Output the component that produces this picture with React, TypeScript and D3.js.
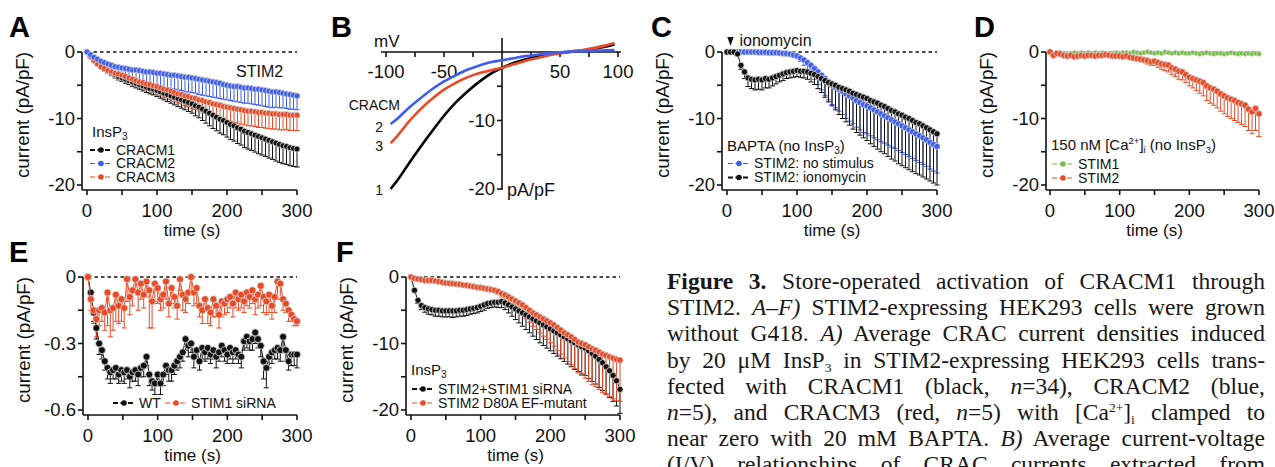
import React, { useLayoutEffect, useRef } from 'react';
import * as d3 from 'd3';

const SANS = '"Liberation Sans", Arial, Helvetica, sans-serif';
const SERIF = '"Liberation Serif", "Times New Roman", serif';

const INK = '#111';
const BLUE = '#3d5ef2';
const RED = '#ec4a24';
const GREEN = '#74c043';

// sampling times (s)
const T5 = d3.range(0, 301, 5);
const T4 = d3.range(0, 301, 4);

const TIME_TICKS = [0, 50, 100, 150, 200, 250, 300];
const TIME_LABELS = [0, 100, 200, 300];
const CURRENT_TICKS = [0, -5, -10, -15, -20];
const CURRENT_LABELS = [0, -10, -20];
const SMALL_TICKS = [0, -0.15, -0.3, -0.45, -0.6];
const SMALL_LABELS = [0, -0.3, -0.6];

// A: InsP3, STIM2 cells
const A_CRACM1 = [
  0, -0.6, -1.2, -1.7, -2.1, -2.5, -2.8, -3.1, -3.4, -3.7,
  -3.9, -4.1, -4.3, -4.5, -4.7, -4.9, -5.1, -5.3, -5.5, -5.6,
  -5.8, -6.0, -6.2, -6.4, -6.6, -6.8, -7.0, -7.2, -7.4, -7.6,
  -7.8, -8.1, -8.3, -8.6, -8.9, -9.2, -9.5, -9.8, -10.1, -10.3,
  -10.6, -10.9, -11.1, -11.4, -11.6, -11.9, -12.1, -12.3, -12.5, -12.7,
  -12.9, -13.1, -13.3, -13.5, -13.7, -13.9, -14.1, -14.2, -14.4, -14.5,
  -14.6,
];
const A_CRACM1_SEM = [
  0, 0.1, 0.2, 0.25, 0.3, 0.35, 0.4, 0.45, 0.5, 0.5,
  0.55, 0.6, 0.6, 0.65, 0.7, 0.7, 0.75, 0.8, 0.8, 0.85,
  0.9, 0.95, 1.0, 1.05, 1.1, 1.15, 1.2, 1.25, 1.3, 1.35,
  1.4, 1.5, 1.6, 1.7, 1.8, 1.9, 2.0, 2.05, 2.1, 2.15,
  2.2, 2.25, 2.3, 2.35, 2.4, 2.45, 2.5, 2.5, 2.55, 2.6,
  2.6, 2.6, 2.65, 2.65, 2.7, 2.7, 2.7, 2.7, 2.7, 2.7,
  2.7,
];
const A_CRACM2 = [
  0, -0.4, -0.8, -1.1, -1.4, -1.6, -1.8, -2.0, -2.2, -2.3,
  -2.4, -2.5, -2.6, -2.7, -2.7, -2.8, -2.9, -3.0, -3.0, -3.1,
  -3.2, -3.2, -3.3, -3.4, -3.5, -3.5, -3.6, -3.7, -3.8, -3.8,
  -3.9, -4.0, -4.1, -4.2, -4.3, -4.4, -4.5, -4.6, -4.7, -4.9,
  -5.0, -5.1, -5.2, -5.2, -5.3, -5.4, -5.4, -5.5, -5.6, -5.6,
  -5.7, -5.8, -5.9, -6.0, -6.0, -6.1, -6.2, -6.3, -6.4, -6.5,
  -6.6,
];
const A_CRACM2_SEM = [
  0, 0.2, 0.4, 0.6, 0.8, 0.9, 1.0, 1.1, 1.2, 1.3,
  1.4, 1.5, 1.5, 1.6, 1.6, 1.7, 1.7, 1.8, 1.8, 1.8,
  1.9, 1.9, 2.0, 2.0, 2.0, 2.1, 2.1, 2.1, 2.2, 2.2,
  2.2, 2.2, 2.3, 2.3, 2.3, 2.3, 2.3, 2.3, 2.3, 2.2,
  2.2, 2.2, 2.2, 2.3, 2.3, 2.3, 2.3, 2.3, 2.3, 2.4,
  2.4, 2.4, 2.4, 2.4, 2.3, 2.3, 2.2, 2.2, 2.2, 2.1,
  2.1,
];
const A_CRACM3 = [
  0, -0.7, -1.3, -1.8, -2.2, -2.5, -2.8, -3.0, -3.2, -3.3,
  -3.5, -3.7, -3.9, -4.1, -4.3, -4.5, -4.6, -4.8, -4.9, -5.1,
  -5.2, -5.4, -5.6, -5.7, -5.9, -6.1, -6.3, -6.4, -6.6, -6.7,
  -6.9, -7.0, -7.2, -7.3, -7.5, -7.6, -7.8, -7.9, -8.0, -8.2,
  -8.3, -8.4, -8.5, -8.6, -8.7, -8.8, -8.9, -8.9, -9.0, -9.1,
  -9.1, -9.2, -9.2, -9.3, -9.3, -9.4, -9.4, -9.4, -9.5, -9.5,
  -9.5,
];
const A_CRACM3_SEM = [
  0, 0.1, 0.15, 0.2, 0.25, 0.3, 0.35, 0.4, 0.45, 0.5,
  0.55, 0.6, 0.65, 0.7, 0.75, 0.8, 0.85, 0.9, 0.95, 1.0,
  1.05, 1.1, 1.15, 1.2, 1.25, 1.3, 1.35, 1.4, 1.45, 1.5,
  1.55, 1.6, 1.65, 1.7, 1.75, 1.8, 1.85, 1.9, 1.95, 2.0,
  2.0, 2.05, 2.1, 2.1, 2.15, 2.15, 2.2, 2.2, 2.2, 2.25,
  2.25, 2.25, 2.3, 2.3, 2.3, 2.3, 2.3, 2.3, 2.3, 2.3,
  2.3,
];

// B: I/V curves
const IV_MV = [-96, -90, -80, -70, -60, -50, -40, -30, -20, -10, 0, 10, 20, 30, 40, 50, 60, 70, 80, 90, 97];
const IV_CRACM1 = [-20.0, -18.7, -16.2, -13.8, -11.5, -9.3, -7.4, -5.8, -4.4, -3.2, -2.3, -1.6, -1.1, -0.7, -0.4, -0.15, 0.05, 0.25, 0.5, 0.8, 1.1];
const IV_CRACM2 = [-10.5, -9.7, -8.1, -6.7, -5.4, -4.3, -3.4, -2.6, -2.0, -1.5, -1.2, -0.9, -0.6, -0.4, -0.2, -0.05, 0.05, 0.1, 0.2, 0.25, 0.3];
const IV_CRACM3 = [-13.3, -12.2, -10.1, -8.3, -6.8, -5.5, -4.5, -3.7, -3.1, -2.7, -2.3, -1.8, -1.3, -0.9, -0.5, -0.2, 0.1, 0.3, 0.6, 1.0, 1.3];
const MV_TICKS = [-100, -75, -50, -25, 25, 50, 75, 100];
const MV_LABELS = [-100, -50, 50, 100];
const PA_TICKS = [-5, -10, -15, -20];
const PA_LABELS = [-10, -20];

// C: BAPTA, no InsP3
const C_NO_STIM = [
  0, 0, 0, 0, 0, 0, 0, 0, 0, -0.05,
  -0.05, -0.05, -0.1, -0.1, -0.1, -0.15, -0.2, -0.25, -0.3, -0.45,
  -0.6, -0.9, -1.2, -1.6, -2.0, -2.5, -3.0, -3.5, -4.0, -4.5,
  -5.0, -5.3, -5.6, -5.9, -6.3, -6.6, -6.9, -7.3, -7.6, -7.9,
  -8.1, -8.4, -8.7, -9.0, -9.3, -9.6, -9.9, -10.2, -10.5, -10.8,
  -11.1, -11.4, -11.7, -12.0, -12.3, -12.6, -12.9, -13.2, -13.6, -13.9,
  -14.2,
];
const C_NO_STIM_SEM = [
  0, 0, 0, 0, 0, 0, 0, 0, 0, 0,
  0, 0, 0, 0, 0, 0, 0, 0, 0.1, 0.2,
  0.3, 0.5, 0.8, 1.0, 1.3, 1.6, 1.9, 2.2, 2.5, 2.7,
  2.9, 3.1, 3.3, 3.5, 3.7, 3.8, 3.9, 4.0, 4.1, 4.2,
  4.2, 4.2, 4.2, 4.2, 4.2, 4.1, 4.1, 4.1, 4.0, 4.0,
  4.0, 4.0, 4.0, 4.0, 4.0, 4.0, 4.0, 4.0, 4.0, 4.0,
  4.0,
];
const C_IONO = [
  0, 0, 0, -0.3, -2.0, -3.0, -3.9, -4.1, -4.2, -4.1,
  -4.2, -4.0, -4.1, -3.9, -3.7, -3.5, -3.3, -3.1, -3.0, -2.9,
  -2.8, -2.9, -2.9, -3.0, -3.2, -3.4, -3.7, -4.0, -4.3, -4.6,
  -4.8, -5.0, -5.3, -5.5, -5.7, -5.9, -6.2, -6.4, -6.6, -6.8,
  -7.0, -7.3, -7.5, -7.7, -8.0, -8.2, -8.5, -8.8, -9.0, -9.3,
  -9.5, -9.8, -10.0, -10.3, -10.6, -10.8, -11.1, -11.4, -11.7, -12.0,
  -12.3,
];
const C_IONO_SEM = [
  0, 0, 0, 0.2, 0.6, 1.0, 1.3, 1.4, 1.5, 1.5,
  1.5, 1.4, 1.3, 1.2, 1.1, 1.0, 1.0, 0.9, 0.9, 0.9,
  0.9, 0.9, 1.0, 1.1, 1.3, 1.5, 1.8, 2.1, 2.5, 2.9,
  3.3, 3.7, 4.1, 4.5, 4.8, 5.1, 5.4, 5.7, 5.9, 6.1,
  6.3, 6.5, 6.7, 6.9, 7.0, 7.1, 7.2, 7.3, 7.4, 7.5,
  7.6, 7.6, 7.7, 7.7, 7.7, 7.7, 7.7, 7.7, 7.7, 7.7,
  7.7,
];
const IONOMYCIN_T = 5;

// D: 150 nM Ca, no InsP3
const D_STIM1 = [
  -0.1, -0.3, -0.2, -0.1, -0.2, -0.3, -0.2, -0.1, -0.2, -0.1,
  -0.2, -0.1, -0.3, -0.1, -0.2, -0.1, -0.2, -0.3, -0.2, -0.1,
  -0.2, -0.1, -0.1, -0.2, 0, -0.1, -0.2, -0.1, 0, -0.1,
  -0.2, -0.1, -0.2, 0, -0.1, -0.2, -0.1, -0.2, -0.1, -0.2,
  -0.2, -0.1, -0.2, -0.3, -0.2, -0.1, -0.2, -0.3, -0.2, -0.2,
  -0.3, -0.2, -0.1, -0.2, -0.3, -0.2, -0.3, -0.2, -0.3, -0.2,
  -0.3,
];
const D_STIM1_SEM = [
  0, 0.1, 0.1, 0.1, 0.1, 0.1, 0.1, 0.1, 0.1, 0.1,
  0.1, 0.1, 0.1, 0.1, 0.1, 0.1, 0.1, 0.1, 0.1, 0.1,
  0.1, 0.1, 0.1, 0.1, 0.1, 0.1, 0.1, 0.1, 0.1, 0.1,
  0.1, 0.1, 0.1, 0.1, 0.1, 0.1, 0.1, 0.1, 0.1, 0.1,
  0.1, 0.1, 0.1, 0.1, 0.1, 0.1, 0.1, 0.1, 0.1, 0.1,
  0.1, 0.1, 0.1, 0.1, 0.1, 0.1, 0.1, 0.1, 0.1, 0.1,
  0.1,
];
const D_STIM2 = [
  0, -0.5, -0.2, -0.3, -0.5, -0.6, -0.5, -0.7, -0.6, -0.5,
  -0.6, -0.5, -0.5, -0.6, -0.5, -0.5, -0.4, -0.5, -0.6, -0.6,
  -0.6, -0.7, -0.6, -0.8, -0.9, -1.0, -1.1, -1.2, -1.3, -1.5,
  -1.4, -1.6, -1.8, -1.9, -2.0, -2.4, -2.6, -2.9, -3.0, -3.4,
  -3.8, -4.0, -4.2, -4.4, -4.6, -5.1, -5.4, -5.6, -5.9, -6.3,
  -6.6, -6.9, -7.1, -7.3, -7.6, -7.8, -8.0, -8.6, -9.0, -8.5,
  -9.3,
];
const D_STIM2_SEM = [
  0, 0.1, 0.1, 0.1, 0.1, 0.1, 0.1, 0.1, 0.1, 0.1,
  0.1, 0.1, 0.1, 0.1, 0.1, 0.1, 0.1, 0.1, 0.1, 0.1,
  0.1, 0.1, 0.1, 0.2, 0.2, 0.3, 0.3, 0.4, 0.5, 0.5,
  0.6, 0.7, 0.8, 0.9, 1.0, 1.0, 1.1, 1.2, 1.2, 1.2,
  1.3, 1.4, 1.6, 1.8, 2.0, 2.2, 2.3, 2.4, 2.5, 2.6,
  2.7, 2.8, 2.9, 3.0, 3.0, 3.1, 3.2, 3.2, 3.3, 3.3,
  3.4,
];

// E: STIM1 knock-down (4 s sampling)
const E_WT = [
  0, -0.07, -0.16, -0.23, -0.30, -0.33, -0.38, -0.41, -0.43, -0.42,
  -0.41, -0.44, -0.42, -0.43, -0.42, -0.45, -0.43, -0.42, -0.44, -0.41,
  -0.40, -0.36, -0.44, -0.47, -0.48, -0.44, -0.48, -0.44, -0.40, -0.42,
  -0.42, -0.40, -0.38, -0.36, -0.34, -0.28, -0.31, -0.30, -0.36, -0.33,
  -0.38, -0.32, -0.34, -0.32, -0.35, -0.33, -0.36, -0.34, -0.31, -0.33,
  -0.35, -0.32, -0.34, -0.33, -0.35, -0.36, -0.29, -0.27, -0.29, -0.28,
  -0.25, -0.28, -0.31, -0.38, -0.41, -0.36, -0.34, -0.33, -0.32, -0.33,
  -0.27, -0.33, -0.38, -0.35, -0.35, -0.35,
];
const E_WT_SEM = [
  0, 0.02, 0.04, 0.05, 0.05, 0.04, 0.04, 0.05, 0.05, 0.04,
  0.05, 0.04, 0.05, 0.05, 0.04, 0.05, 0.04, 0.05, 0.05, 0.04,
  0.05, 0.04, 0.05, 0.04, 0.05, 0.04, 0.05, 0.05, 0.04, 0.05,
  0.05, 0.04, 0.04, 0.05, 0.04, 0.05, 0.05, 0.04, 0.05, 0.04,
  0.04, 0.05, 0.04, 0.05, 0.04, 0.04, 0.05, 0.04, 0.05, 0.05,
  0.04, 0.05, 0.05, 0.04, 0.04, 0.05, 0.04, 0.05, 0.04, 0.05,
  0.05, 0.04, 0.05, 0.08, 0.09, 0.05, 0.05, 0.04, 0.05, 0.05,
  0.05, 0.05, 0.04, 0.05, 0.05, 0.06,
];
const E_SIRNA = [
  0, -0.10, -0.15, -0.19, -0.15, -0.14, -0.16, -0.07, -0.15, -0.14,
  -0.08, -0.13, -0.10, -0.14, -0.01, -0.09, -0.06, -0.01, -0.07, -0.03,
  -0.08, -0.02, -0.06, -0.11, -0.03, -0.05, -0.10, -0.08, -0.02, -0.12,
  -0.05, -0.09, -0.13, -0.01, -0.08, -0.10, -0.07, 0, -0.07, -0.05,
  -0.13, -0.15, -0.10, -0.14, -0.16, -0.10, -0.13, -0.17, -0.11, -0.12,
  -0.10, -0.09, -0.12, -0.07, -0.10, -0.08, -0.11, -0.07, -0.09, -0.06,
  -0.10, -0.08, -0.04, -0.09, -0.11, -0.08, -0.13, -0.09, -0.02, -0.03,
  -0.10, -0.12, -0.15, -0.17, -0.19, -0.20,
];
const E_SIRNA_SEM = [
  0, 0.05, 0.06, 0.08, 0.07, 0.06, 0.08, 0.15, 0.12, 0.1,
  0.12, 0.08, 0.1, 0.09, 0.1, 0.08, 0.07, 0.06, 0.08, 0.07,
  0.06, 0.07, 0.17, 0.12, 0.08, 0.07, 0.05, 0.06, 0.08, 0.06,
  0.07, 0.05, 0.06, 0.05, 0.07, 0.06, 0.05, 0.06, 0.06, 0.07,
  0.05, 0.06, 0.05, 0.07, 0.06, 0.08, 0.05, 0.06, 0.07, 0.05,
  0.06, 0.05, 0.06, 0.07, 0.05, 0.06, 0.05, 0.06, 0.05, 0.06,
  0.07, 0.06, 0.09, 0.07, 0.06, 0.08, 0.06, 0.07, 0.08, 0.07,
  0.05, 0.04, 0.05, 0.03, 0.03, 0.02,
];

// F: InsP3, STIM2 + STIM1 siRNA / D80A mutant
const F_SIRNA = [
  0, -2.0, -3.5, -4.3, -4.6, -4.8, -4.9, -5.0, -5.0, -5.1,
  -5.1, -5.1, -5.1, -5.1, -5.0, -5.0, -4.9, -4.8, -4.7, -4.6,
  -4.4, -4.2, -4.0, -3.9, -3.8, -3.8, -3.7, -3.9, -4.2, -4.5,
  -4.8, -5.1, -5.4, -5.7, -6.0, -6.3, -6.6, -6.9, -7.2, -7.5,
  -7.8, -8.1, -8.4, -8.7, -9.0, -9.3, -9.6, -9.9, -10.2, -10.5,
  -10.7, -11.1, -11.5, -11.9, -12.4, -12.9, -13.5, -14.1, -14.8, -15.6,
  -16.9,
];
const F_SIRNA_SEM = [
  0, 0.3, 0.5, 0.6, 0.7, 0.8, 0.8, 0.9, 0.9, 0.9,
  0.9, 0.9, 1.0, 0.9, 0.9, 0.9, 0.9, 0.8, 0.8, 0.8,
  0.8, 0.8, 0.7, 0.7, 0.7, 0.8, 0.9, 1.0, 1.2, 1.4,
  1.6, 1.8, 2.0, 2.2, 2.4, 2.6, 2.8, 3.0, 3.1, 3.2,
  3.3, 3.4, 3.5, 3.6, 3.7, 3.8, 3.9, 4.0, 4.0, 4.1,
  4.1, 4.2, 4.2, 4.2, 4.2, 4.2, 4.1, 4.0, 3.9, 3.8,
  3.6,
];
const F_D80A = [
  0, -0.2, -0.3, -0.4, -0.5, -0.5, -0.5, -0.6, -0.7, -0.8,
  -0.9, -0.95, -1.0, -1.05, -1.1, -1.2, -1.25, -1.35, -1.45, -1.55,
  -1.6, -1.7, -1.8, -1.9, -2.0, -2.2, -2.5, -2.7, -3.0, -3.3,
  -3.6, -3.9, -4.2, -4.6, -5.0, -5.4, -5.7, -6.0, -6.3, -6.6,
  -6.9, -7.2, -7.6, -8.0, -8.4, -8.7, -9.0, -9.4, -9.8, -10.0,
  -10.2, -10.5, -10.8, -11.0, -11.3, -11.6, -11.8, -12.0, -12.2, -12.4,
  -12.5,
];
const F_D80A_SEM = [
  0, 0.1, 0.1, 0.1, 0.1, 0.1, 0.1, 0.1, 0.1, 0.1,
  0.1, 0.1, 0.1, 0.1, 0.1, 0.1, 0.1, 0.1, 0.1, 0.1,
  0.2, 0.2, 0.2, 0.3, 0.3, 0.4, 0.5, 0.6, 0.7, 0.8,
  1.0, 1.2, 1.4, 1.6, 1.8, 2.0, 2.2, 2.4, 2.6, 2.8,
  3.0, 3.2, 3.4, 3.6, 3.8, 4.0, 4.2, 4.4, 4.6, 4.8,
  5.0, 5.2, 5.4, 5.5, 5.6, 5.8, 5.9, 6.0, 6.1, 6.2,
  6.2,
];

type Seg = { t: string; b?: boolean; i?: boolean; sub?: boolean; sup?: boolean };
const CAPTION: Seg[][] = [
  [{ t: 'Figure 3.', b: true }, { t: ' Store-operated activation of CRACM1 through' }],
  [{ t: 'STIM2. ' }, { t: 'A–F)', i: true }, { t: ' STIM2-expressing HEK293 cells were grown' }],
  [{ t: 'without G418. ' }, { t: 'A)', i: true }, { t: ' Average CRAC current densities induced' }],
  [{ t: 'by 20 μM InsP' }, { t: '3', sub: true }, { t: ' in STIM2-expressing HEK293 cells trans-' }],
  [{ t: 'fected with CRACM1 (black, ' }, { t: 'n', i: true }, { t: '=34), CRACM2 (blue,' }],
  [{ t: 'n', i: true }, { t: '=5), and CRACM3 (red, ' }, { t: 'n', i: true }, { t: '=5) with [Ca' }, { t: '2+', sup: true }, { t: ']' }, { t: 'i', sub: true }, { t: ' clamped to' }],
  [{ t: 'near zero with 20 mM BAPTA. ' }, { t: 'B)', i: true }, { t: ' Average current-voltage' }],
  [{ t: '(I/V) relationships of CRAC currents extracted from' }],
];

type Series = { t: number[]; mean: number[]; sem: number[]; color: string; r: number };
type Frame = { axisX: number; left: number; right: number; top: number; bottom: number; base: number; titleY: number };

const TOP = { top: 52, bottom: 185, base: 190, titleY: 115 };
const BOT = { top: 277, bottom: 410, base: 415, titleY: 340 };
const FRAME_A: Frame = { axisX: 82, left: 87, right: 297, ...TOP };
const FRAME_C: Frame = { axisX: 722, left: 727, right: 937, ...TOP };
const FRAME_D: Frame = { axisX: 1046, left: 1050, right: 1259, ...TOP };
const FRAME_E: Frame = { axisX: 83, left: 88, right: 297, ...BOT };
const FRAME_F: Frame = { axisX: 406, left: 411, right: 620, ...BOT };

const ErrorBars = ({ s, x, y }: any) => (
  <g stroke={s.color} strokeWidth={1} fill="none">
    {s.t.map((t: number, i: number) => {
      if (!s.sem[i]) return null;
      const px = x(t);
      const y0 = y(s.mean[i]);
      const y1 = y(s.mean[i] - s.sem[i]);
      return (
        <g key={i}>
          <line x1={px} x2={px} y1={y0} y2={y1} />
          <line x1={px - 2.6} x2={px + 2.6} y1={y1} y2={y1} />
        </g>
      );
    })}
  </g>
);

const Trace = ({ s, x, y }: any) => {
  const pts: [number, number][] = s.t.map((t: number, i: number) => [x(t), y(s.mean[i])]);
  return (
    <g>
      <path d={d3.line()(pts) || ''} fill="none" stroke={s.color} strokeWidth={1} />
      {pts.map(([px, py], i) => (
        <circle key={i} cx={px} cy={py} r={s.r} fill={s.color} stroke="#d4d4d4" strokeWidth={0.8} />
      ))}
    </g>
  );
};

const LegendItem = ({ x, y, color, label, w = 22 }: any) => (
  <g>
    <line x1={x} x2={x + w} y1={y} y2={y} stroke={color} strokeWidth={color === INK ? 1.8 : 1.2} strokeDasharray="5 2.5" />
    <circle cx={x + w / 2} cy={y} r={2.8} fill={color} />
    <text x={x + w + 4} y={y} dy="0.35em" fontSize={14} fill={INK}>{label}</text>
  </g>
);

function TimePanel({ f, yDomain, yTicks, yLabels, series, extra }: any) {
  const x = d3.scaleLinear().domain([0, 300]).range([f.left, f.right]);
  const y = d3.scaleLinear().domain(yDomain).range([f.bottom, f.top]);
  return (
    <g fontFamily={SANS} fill={INK}>
      <line x1={x(0)} x2={x(300)} y1={y(0)} y2={y(0)} stroke={INK} strokeWidth={1.4} strokeDasharray="3.5 3" />
      {series.map((s: Series, i: number) => <ErrorBars key={i} s={s} x={x} y={y} />)}
      {series.map((s: Series, i: number) => <Trace key={i} s={s} x={x} y={y} />)}
      <g stroke={INK} strokeWidth={1.6}>
        <line x1={f.axisX} x2={f.axisX} y1={f.top} y2={f.base} />
        <line x1={f.axisX} x2={x(300)} y1={f.base} y2={f.base} />
        {TIME_TICKS.map((t) => <line key={t} x1={x(t)} x2={x(t)} y1={f.base} y2={f.base + 5} />)}
        {yTicks.map((v: number) => <line key={v} x1={f.axisX - 5} x2={f.axisX} y1={y(v)} y2={y(v)} />)}
      </g>
      {TIME_LABELS.map((t) => (
        <text key={t} x={x(t)} y={f.base + 27} textAnchor="middle" fontSize={18.5}>{t}</text>
      ))}
      <text x={(x(0) + x(300)) / 2} y={f.base + 46} textAnchor="middle" fontSize={17}>time (s)</text>
      {yLabels.map((v: number) => (
        <text key={v} x={f.axisX - 7} y={y(v)} dy="0.35em" textAnchor="end" fontSize={18.5}>{String(v)}</text>
      ))}
      <text
        transform={`translate(${f.axisX - 59},${f.titleY}) rotate(-90)`}
        textAnchor="middle"
        dy="0.35em"
        fontSize={18}
        textLength={126}
        lengthAdjust="spacingAndGlyphs"
      >
        current (pA/pF)
      </text>
      {extra && extra(x, y)}
    </g>
  );
}

function IVPanel() {
  const x = d3.scaleLinear().domain([-100, 100]).range([386, 618]);
  const y = d3.scaleLinear().domain([-20, 0]).range([189, 52]);
  const curve = (vals: number[]) =>
    d3.line<number>().x((_, i) => x(IV_MV[i])).y((v) => y(v)).curve(d3.curveMonotoneX)(vals) || '';
  return (
    <g fontFamily={SANS} fill={INK}>
      <g stroke={INK} strokeWidth={1.6}>
        <line x1={381} x2={621} y1={y(0)} y2={y(0)} />
        <line x1={x(0)} x2={x(0)} y1={38} y2={190} />
        {MV_TICKS.map((v) => <line key={v} x1={x(v)} x2={x(v)} y1={y(0)} y2={y(0) + 5} />)}
        {PA_TICKS.map((v) => <line key={v} x1={x(0) - 5} x2={x(0)} y1={y(v)} y2={y(v)} />)}
      </g>
      {MV_LABELS.map((v) => (
        <text key={v} x={x(v)} y={78} textAnchor="middle" fontSize={18.5}>{v}</text>
      ))}
      {PA_LABELS.map((v) => (
        <text key={v} x={x(0) - 7} y={y(v)} dy="0.35em" textAnchor="end" fontSize={18.5}>{v}</text>
      ))}
      <text x={374} y={47} fontSize={17}>mV</text>
      <text x={507} y={196} fontSize={18}>pA/pF</text>
      <path d={curve(IV_CRACM1)} fill="none" stroke="#000" strokeWidth={2.6} />
      <path d={curve(IV_CRACM3)} fill="none" stroke={RED} strokeWidth={2.6} />
      <path d={curve(IV_CRACM2)} fill="none" stroke={BLUE} strokeWidth={2.6} />
      <text x={400} y={110} textAnchor="end" fontSize={14}>CRACM</text>
      <text x={383} y={132} textAnchor="end" fontSize={14}>2</text>
      <text x={383} y={151} textAnchor="end" fontSize={14}>3</text>
      <text x={383} y={195} textAnchor="end" fontSize={14}>1</text>
    </g>
  );
}

const CAP_X = 667;
const CAP_W = 598;
const CAP_Y = 289;
const CAP_LH = 26.2;
const CAP_SIZE = 23.5;

function Caption() {
  const refs = useRef<(SVGTextElement | null)[]>([]);
  useLayoutEffect(() => {
    const fit = () => {
      refs.current.forEach((el, i) => {
        if (!el) return;
        el.style.wordSpacing = '0px';
        const len = el.getComputedTextLength();
        const spaces = CAPTION[i].map((s) => s.t).join('').split(' ').length - 1;
        if (spaces > 0) el.style.wordSpacing = `${(CAP_W - len) / spaces}px`;
      });
    };
    fit();
    (document as any).fonts?.ready?.then(fit);
  }, []);
  return (
    <g fontFamily={SERIF} fontSize={CAP_SIZE} fill="#1a1718">
      {CAPTION.map((line, li) => {
        let shift = 0;
        return (
          <text key={li} ref={(el) => { refs.current[li] = el; }} x={CAP_X} y={CAP_Y + li * CAP_LH} xmlSpace="preserve">
            {line.map((s, k) => {
              const want = s.sub ? 4 : s.sup ? -8 : 0;
              const dy = want - shift;
              shift = want;
              return (
                <tspan
                  key={k}
                  dy={dy || undefined}
                  fontWeight={s.b ? 'bold' : undefined}
                  fontStyle={s.i ? 'italic' : undefined}
                  fontSize={s.sub || s.sup ? 13.5 : undefined}
                >
                  {s.t}
                </tspan>
              );
            })}
          </text>
        );
      })}
    </g>
  );
}

const Sub = ({ children }: any) => <tspan dy={3} fontSize={10}>{children}</tspan>;

export default function App() {
  const seriesA: Series[] = [
    { t: T5, mean: A_CRACM1, sem: A_CRACM1_SEM, color: INK, r: 3 },
    { t: T5, mean: A_CRACM3, sem: A_CRACM3_SEM, color: RED, r: 3 },
    { t: T5, mean: A_CRACM2, sem: A_CRACM2_SEM, color: BLUE, r: 3 },
  ];
  const seriesC: Series[] = [
    { t: T5, mean: C_NO_STIM, sem: C_NO_STIM_SEM, color: BLUE, r: 3.1 },
    { t: T5, mean: C_IONO, sem: C_IONO_SEM, color: INK, r: 3.1 },
  ];
  const seriesD: Series[] = [
    { t: T5, mean: D_STIM1, sem: D_STIM1_SEM, color: GREEN, r: 2.4 },
    { t: T5, mean: D_STIM2, sem: D_STIM2_SEM, color: RED, r: 3.2 },
  ];
  const seriesE: Series[] = [
    { t: T4, mean: E_WT, sem: E_WT_SEM, color: INK, r: 3.5 },
    { t: T4, mean: E_SIRNA, sem: E_SIRNA_SEM, color: RED, r: 3.5 },
  ];
  const seriesF: Series[] = [
    { t: T5, mean: F_SIRNA, sem: F_SIRNA_SEM, color: INK, r: 3.1 },
    { t: T5, mean: F_D80A, sem: F_D80A_SEM, color: RED, r: 3.1 },
  ];

  const letter = (x: number, y: number, s: string) => (
    <text x={x} y={y} fontFamily={SANS} fontWeight="bold" fontSize={29} fill="#000">{s}</text>
  );

  return (
    <svg width={1275} height={467} style={{ position: 'absolute', left: 0, top: 0, background: '#fff' }}>
      {letter(9, 37, 'A')}
      {letter(331, 37, 'B')}
      {letter(651, 37, 'C')}
      {letter(974, 37, 'D')}
      {letter(9, 262, 'E')}
      {letter(336, 262, 'F')}

      <TimePanel
        f={FRAME_A}
        yDomain={[-20, 0]}
        yTicks={CURRENT_TICKS}
        yLabels={CURRENT_LABELS}
        series={seriesA}
        extra={() => (
          <g>
            <text x={236} y={77} fontSize={16}>STIM2</text>
            <text x={92} y={137} fontSize={15}>InsP<Sub>3</Sub></text>
            <LegendItem x={90} y={150} color={INK} label="CRACM1" />
            <LegendItem x={90} y={163.5} color={BLUE} label="CRACM2" />
            <LegendItem x={90} y={177} color={RED} label="CRACM3" />
          </g>
        )}
      />

      <IVPanel />

      <TimePanel
        f={FRAME_C}
        yDomain={[-20, 0]}
        yTicks={CURRENT_TICKS}
        yLabels={CURRENT_LABELS}
        series={seriesC}
        extra={(x: any) => (
          <g>
            <path d={`M${x(IONOMYCIN_T) - 3.2},37 L${x(IONOMYCIN_T) + 3.2},37 L${x(IONOMYCIN_T)},46 Z`} fill={INK} />
            <text x={x(IONOMYCIN_T) + 9} y={46} fontSize={16}>ionomycin</text>
            <text x={727} y={151} fontSize={15}>BAPTA (no InsP<Sub>3</Sub><tspan dy={-3}>)</tspan></text>
            <LegendItem x={728} y={163.5} color={BLUE} label="STIM2: no stimulus" />
            <LegendItem x={728} y={177.5} color={INK} label="STIM2: ionomycin" />
          </g>
        )}
      />

      <TimePanel
        f={FRAME_D}
        yDomain={[-20, 0]}
        yTicks={CURRENT_TICKS}
        yLabels={CURRENT_LABELS}
        series={seriesD}
        extra={() => (
          <g>
            <text x={1051} y={150} fontSize={15}>
              150 nM [Ca<tspan dy={-6} fontSize={9.5}>2+</tspan><tspan dy={6}>]</tspan>
              <tspan dy={3} fontSize={9.5}>i</tspan><tspan dy={-3}> (no InsP</tspan>
              <tspan dy={3} fontSize={9.5}>3</tspan><tspan dy={-3}>)</tspan>
            </text>
            <LegendItem x={1052} y={164} color={GREEN} label="STIM1" />
            <LegendItem x={1052} y={178} color={RED} label="STIM2" />
          </g>
        )}
      />

      <TimePanel
        f={FRAME_E}
        yDomain={[-0.6, 0]}
        yTicks={SMALL_TICKS}
        yLabels={SMALL_LABELS}
        series={seriesE}
        extra={() => (
          <g>
            <LegendItem x={113} y={403} color={INK} label="WT" />
            <LegendItem x={165} y={403} color={RED} label="STIM1 siRNA" />
          </g>
        )}
      />

      <TimePanel
        f={FRAME_F}
        yDomain={[-20, 0]}
        yTicks={CURRENT_TICKS}
        yLabels={CURRENT_LABELS}
        series={seriesF}
        extra={() => (
          <g>
            <text x={411} y={375} fontSize={15}>InsP<Sub>3</Sub></text>
            <LegendItem x={412} y={389} color={INK} label="STIM2+STIM1 siRNA" />
            <LegendItem x={412} y={403} color={RED} label="STIM2 D80A EF-mutant" />
          </g>
        )}
      />

      <Caption />
    </svg>
  );
}
